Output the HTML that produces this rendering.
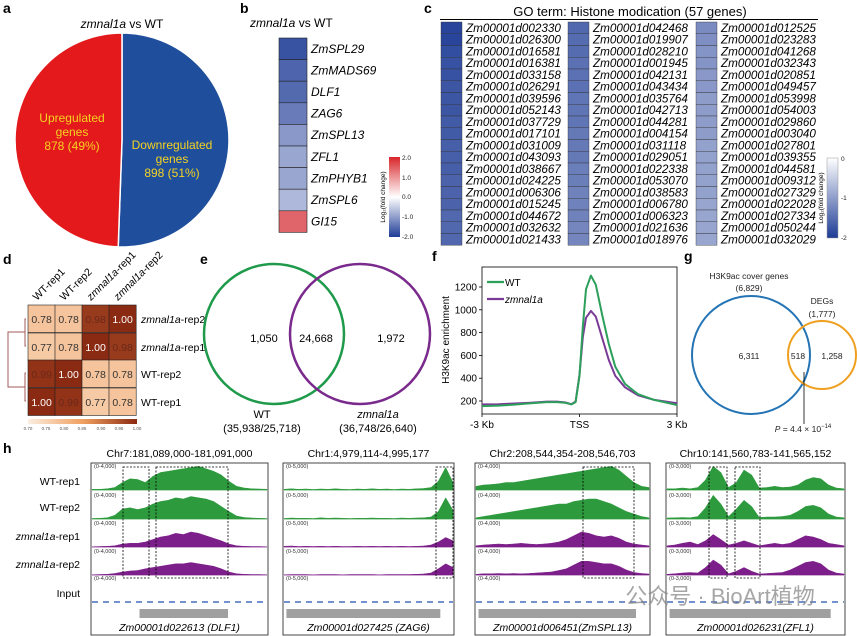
<!DOCTYPE html>
<html><head><meta charset="utf-8"><style>
body{margin:0;background:#fff}
svg{display:block;font-family:"Liberation Sans","Noto Sans CJK SC",sans-serif}
</style></head><body>
<svg id="fig" width="857" height="636" viewBox="0 0 857 636" xmlns="http://www.w3.org/2000/svg">
<defs>
<linearGradient id="gb" x1="0" y1="0" x2="0" y2="1"><stop offset="0" stop-color="#d8262a"/><stop offset="0.5" stop-color="#ffffff"/><stop offset="1" stop-color="#1e3c96"/></linearGradient>
<linearGradient id="gc" x1="0" y1="0" x2="0" y2="1"><stop offset="0" stop-color="#ffffff"/><stop offset="1" stop-color="#1e3c96"/></linearGradient>
<linearGradient id="gd" x1="0" y1="0" x2="1" y2="0"><stop offset="0" stop-color="#fbeee0"/><stop offset="0.5" stop-color="#f0a060"/><stop offset="1" stop-color="#8b2a12"/></linearGradient>
</defs>
<g font-weight="bold" font-size="14" fill="#000">
<text x="3" y="13">a</text><text x="240" y="13">b</text><text x="424" y="13">c</text>
<text x="3" y="264">d</text><text x="200" y="264">e</text><text x="432" y="261">f</text><text x="684" y="261">g</text><text x="3" y="453">h</text>
</g>
<text x="122" y="28" font-size="12" text-anchor="middle"><tspan font-style="italic">zmnal1a</tspan> vs WT</text>
<g id="pie"></g>
<text x="250" y="27" font-size="12"><tspan font-style="italic">zmnal1a</tspan> vs WT</text>
<g id="hb"></g>
<rect x="389" y="157" width="11" height="80" fill="url(#gb)"/>
<g font-size="6.5" fill="#222">
<text x="402" y="160">2.0</text><text x="402" y="180">1.0</text><text x="402" y="199">0.0</text><text x="402" y="219">-1.0</text><text x="402" y="239">-2.0</text></g>
<text transform="translate(385,197) rotate(-90)" font-size="6.5" text-anchor="middle">Log₂(fold change)</text>
<text x="630" y="16" font-size="13" text-anchor="middle">GO term: Histone modication (57 genes)</text>
<line x1="440" y1="19.5" x2="818" y2="19.5" stroke="#000" stroke-width="1"/>
<g id="hc"></g>
<rect x="827" y="158" width="11" height="80" fill="url(#gc)" stroke="#999" stroke-width="0.5"/>
<g font-size="6.5" fill="#222"><text x="841" y="161">0</text><text x="841" y="200">-1</text><text x="841" y="240">-2</text></g>
<text transform="translate(823,198) rotate(-90)" font-size="6.5" text-anchor="middle">Log₂(fold change)</text>
<g id="hd"></g>
<g stroke="#a05a5a" stroke-width="1" fill="none">
<path d="M26,319 H25 V346 H26 M25,332 H8 V387 H25 M26,373 H25 V401 H26"/></g>
<rect x="28" y="419" width="109" height="5" fill="url(#gd)"/>
<g font-size="4.5" fill="#555" text-anchor="middle">
<text x="28" y="430">0.70</text><text x="46" y="430">0.75</text><text x="64" y="430">0.80</text><text x="82" y="430">0.85</text><text x="101" y="430">0.90</text><text x="119" y="430">0.95</text><text x="137" y="430">1.00</text></g>
<circle cx="274" cy="334" r="70" fill="none" stroke="#1e9a4a" stroke-width="2.5"/>
<circle cx="360" cy="334" r="70" fill="none" stroke="#7a2a8c" stroke-width="2.5"/>
<g font-size="11" text-anchor="middle">
<text x="264" y="342">1,050</text><text x="316" y="342">24,668</text><text x="391" y="342">1,972</text></g>
<g font-size="11" text-anchor="middle">
<text x="262" y="418">WT</text><text x="262" y="432">(35,938/25,718)</text>
<text x="378" y="418" font-style="italic">zmnal1a</text><text x="378" y="432">(36,748/26,640)</text></g>
<g id="pf"></g>
<circle cx="751" cy="355" r="59" fill="none" stroke="#2474b5" stroke-width="2"/>
<circle cx="822" cy="355" r="34" fill="none" stroke="#f0a020" stroke-width="2"/>
<g font-size="8.5" text-anchor="middle" fill="#222">
<text x="749" y="279">H3K9ac cover genes</text><text x="749" y="291">(6,829)</text>
<text x="822" y="304">DEGs</text><text x="822" y="317">(1,777)</text>
<text x="749" y="359">6,311</text><text x="798" y="359">518</text><text x="832" y="359">1,258</text>
<text x="803" y="432"><tspan font-style="italic">P</tspan> = 4.4 × 10<tspan dy="-4" font-size="6">−14</tspan></text></g>
<line x1="804" y1="372" x2="804" y2="424" stroke="#000" stroke-width="0.8"/>
<g id="ph"></g>
<text x="720" y="604" font-size="22" fill="#888" fill-opacity="0.75" text-anchor="middle">公众号 · BioArt植物</text>
</svg>
<script>
const NS="http://www.w3.org/2000/svg";
function mk(tag,attrs,parent){const e=document.createElementNS(NS,tag);for(const k in attrs)e.setAttribute(k,attrs[k]);parent.appendChild(e);return e;}
function lerp(a,b,t){return Math.round(a+(b-a)*t);}
function divColor(v,max){const t=Math.min(1,Math.abs(v)/max);const w=[244,244,250];const c=v<0?[30,60,150]:[216,40,44];return `rgb(${lerp(w[0],c[0],t)},${lerp(w[1],c[1],t)},${lerp(w[2],c[2],t)})`;}

const pieLabels=["Downregulated genes","Upregulated genes"];
const pieValues=[898,878];
const pieColors=["#1f4e9c","#e3191c"];
(function(){
const g=document.getElementById('pie');const cx=122,cy=140,r=107;const tot=pieValues.reduce((a,b)=>a+b,0);let a0=0;
const labelPos=[[172,149],[72,122]];
pieValues.forEach((v,i)=>{const a1=a0+v/tot*2*Math.PI;
const x0=cx+r*Math.sin(a0),y0=cy-r*Math.cos(a0),x1=cx+r*Math.sin(a1),y1=cy-r*Math.cos(a1);
const p=mk('path',{d:`M${cx},${cy} L${x0},${y0} A${r},${r} 0 ${a1-a0>Math.PI?1:0} 1 ${x1},${y1} Z`,fill:pieColors[i],stroke:'#fff','stroke-width':1.5},g);


const [lx,ly]=labelPos[i];
const words=pieLabels[i].split(' ');const lines=[words[0],words[1],`${v} (${Math.round(v/tot*100)}%)`];
lines.forEach((s,j)=>{const t=mk('text',{x:lx,y:ly+j*14,'font-size':12,fill:'#f5d320','text-anchor':'middle'},g);t.textContent=s;

});
a0=a1;});
})();

const bGenes=["ZmSPL29","ZmMADS69","DLF1","ZAG6","ZmSPL13","ZFL1","ZmPHYB1","ZmSPL6","GI15"];
const bValues=[-1.75,-1.55,-1.5,-1.3,-1.0,-0.85,-0.85,-0.65,1.4];
(function(){const g=document.getElementById('hb');const y0=38,h=21.6;
bGenes.forEach((n,i)=>{const r=mk('rect',{x:279,y:y0+i*h,width:28,height:h,fill:divColor(bValues[i],2),stroke:'#222','stroke-width':0.6},g);


const t=mk('text',{x:311,y:y0+i*h+h/2+4,'font-size':12,'font-style':'italic'},g);t.textContent=n;

});})();

const cGenes=[
["Zm00001d002330","Zm00001d026300","Zm00001d016581","Zm00001d016381","Zm00001d033158","Zm00001d026291","Zm00001d039596","Zm00001d052143","Zm00001d037729","Zm00001d017101","Zm00001d031009","Zm00001d043093","Zm00001d038667","Zm00001d024225","Zm00001d006306","Zm00001d015245","Zm00001d044672","Zm00001d032632","Zm00001d021433"],
["Zm00001d042468","Zm00001d019907","Zm00001d028210","Zm00001d001945","Zm00001d042131","Zm00001d043434","Zm00001d035764","Zm00001d042713","Zm00001d044281","Zm00001d004154","Zm00001d031118","Zm00001d029051","Zm00001d022338","Zm00001d053070","Zm00001d038583","Zm00001d006780","Zm00001d006323","Zm00001d021636","Zm00001d018976"],
["Zm00001d012525","Zm00001d023283","Zm00001d041268","Zm00001d032343","Zm00001d020851","Zm00001d049457","Zm00001d053998","Zm00001d054003","Zm00001d029860","Zm00001d003040","Zm00001d027801","Zm00001d039355","Zm00001d044581","Zm00001d009312","Zm00001d027329","Zm00001d022028","Zm00001d027334","Zm00001d050244","Zm00001d032029"]];
const cValues=[
[-2.0,-2.0,-1.9,-1.85,-1.85,-1.8,-1.8,-1.8,-1.75,-1.75,-1.7,-1.7,-1.7,-1.65,-1.65,-1.65,-1.6,-1.6,-1.6],
[-1.6,-1.55,-1.55,-1.5,-1.5,-1.5,-1.45,-1.45,-1.45,-1.4,-1.4,-1.4,-1.35,-1.35,-1.3,-1.3,-1.3,-1.25,-1.25],
[-1.2,-1.15,-1.1,-1.1,-1.05,-1.05,-1.0,-1.0,-1.0,-1.0,-0.95,-0.95,-0.95,-0.95,-0.95,-0.9,-0.9,-0.9,-0.9]];
(function(){const g=document.getElementById('hc');const cx=[441,568,696],y0=22,h=11.75;
cGenes.forEach((col,c)=>col.forEach((n,i)=>{
const r=mk('rect',{x:cx[c],y:y0+i*h,width:21,height:h,fill:divColor(cValues[c][i],2.1),stroke:'#333','stroke-width':0.4},g);


const t=mk('text',{x:cx[c]+25,y:y0+i*h+h-1.8,'font-size':11.7,'font-style':'italic'},g);t.textContent=n;

}));})();

const dSamples=["WT-rep1","WT-rep2","zmnal1a-rep1","zmnal1a-rep2"];
const dRows=["zmnal1a-rep2","zmnal1a-rep1","WT-rep2","WT-rep1"];
const dMatrix=[[0.78,0.78,0.98,1.00],[0.77,0.78,1.00,0.98],[0.99,1.00,0.78,0.78],[1.00,0.99,0.77,0.78]];
(function(){const g=document.getElementById('hd');const xs=[28,55,82,109],ys=[305,333,360,388],w=27.2,h=27.5;
function col(v){const t=Math.max(0,Math.min(1,(v-0.7)/0.3));const a=[251,238,224],m=[240,160,96],b=[139,42,18];
if(t<0.5)return `rgb(${lerp(a[0],m[0],t*2)},${lerp(a[1],m[1],t*2)},${lerp(a[2],m[2],t*2)})`;
return `rgb(${lerp(m[0],b[0],(t-0.5)*2)},${lerp(m[1],b[1],(t-0.5)*2)},${lerp(m[2],b[2],(t-0.5)*2)})`;}
dMatrix.forEach((row,i)=>row.forEach((v,j)=>{
const r=mk('rect',{x:xs[j],y:ys[i],width:w,height:h,fill:col(v),stroke:'#222','stroke-width':0.6},g);


const t=mk('text',{x:xs[j]+w/2,y:ys[i]+h/2+4,'font-size':10.5,'text-anchor':'middle',fill:v>0.9?(v===1?'#fff':'#6a2a1a'):'#333'},g);t.textContent=v.toFixed(2);

}));
dRows.forEach((n,i)=>{const t=mk('text',{x:141,y:ys[i]+h/2+4,'font-size':10.5},g);
if(n.startsWith('zmnal1a')){const s=mk('tspan',{'font-style':'italic'},t);s.textContent='zmnal1a';const s2=mk('tspan',{},t);s2.textContent=n.slice(7);}else t.textContent=n;

});
dSamples.forEach((n,j)=>{const t=mk('text',{transform:`translate(${xs[j]+9},${301}) rotate(-45)`,'font-size':10.5},g);
if(n.startsWith('zmnal1a')){const s=mk('tspan',{'font-style':'italic'},t);s.textContent='zmnal1a';const s2=mk('tspan',{},t);s2.textContent=n.slice(7);}else t.textContent=n;

});})();

const fPos=[-3,-2.5,-2,-1.5,-1,-0.7,-0.45,-0.25,-0.12,0,0.1,0.2,0.35,0.5,0.7,0.9,1.1,1.4,1.8,2.3,3];
const fWT=[155,160,168,180,190,190,185,170,190,420,850,1180,1300,1220,950,700,500,350,260,210,165];
const fMut=[170,172,178,185,195,195,188,172,195,430,760,930,990,940,750,560,420,320,250,210,180];
const fYTicks=[200,400,600,800,1000,1200];
const fXTicks=["-3 Kb","TSS","3 Kb"];
(function(){const g=document.getElementById('pf');const X0=482,X1=677,Yb=414,Yt=267;
const xs=v=>X0+(v+3)/6*(X1-X0);const ys=v=>401-(v-200)*0.114;
const ax=mk('rect',{x:X0,y:Yt,width:X1-X0,height:Yb-Yt,fill:'none',stroke:'#000','stroke-width':0.8},g);


fYTicks.forEach(v=>{const l=mk('line',{x1:X0-3,x2:X0,y1:ys(v),y2:ys(v),stroke:'#000','stroke-width':0.8},g);


const t=mk('text',{x:X0-5,y:ys(v)+3.5,'font-size':10,'text-anchor':'end'},g);t.textContent=v;

});
[-3,0,3].forEach((v,i)=>{const l=mk('line',{x1:xs(v),x2:xs(v),y1:Yb,y2:Yb+3,stroke:'#000','stroke-width':0.8},g);


const t=mk('text',{x:xs(v),y:Yb+14,'font-size':10,'text-anchor':'middle'},g);t.textContent=fXTicks[i];

});
const yt=mk('text',{transform:'translate(449,340) rotate(-90)','font-size':10,'text-anchor':'middle'},g);yt.textContent='H3K9ac enrichment';


[[fMut,'#7b3a96','mutant'],[fWT,'#2ca05a','wt']].forEach(([arr,c,n])=>{
const pts=fPos.map((p,i)=>`${xs(p).toFixed(1)},${ys(arr[i]).toFixed(1)}`).join(' ');
const l=mk('polyline',{points:pts,fill:'none',stroke:c,'stroke-width':2,'stroke-linejoin':'round'},g);

});
[['WT','#2ca05a',282,false],['zmnal1a','#7b3a96',299,true]].forEach(([s,c,y,it])=>{
const l=mk('line',{x1:487,x2:504,y1:y,y2:y,stroke:c,'stroke-width':2.2},g);


const t=mk('text',{x:505,y:y+4,'font-size':10,'font-style':it?'italic':'normal'},g);t.textContent=s;

});})();

const hTitles=["Chr7:181,089,000-181,091,000","Chr1:4,979,114-4,995,177","Chr2:208,544,354-208,546,703","Chr10:141,560,783-141,565,152"];
const hGenes=["Zm00001d022613 (DLF1)","Zm00001d027425 (ZAG6)","Zm00001d006451(ZmSPL13)","Zm00001d026231(ZFL1)"];
const hRanges=["(0-4,000)","(0-5,000)","(0-4,000)","(0-3,000)"];
const hRowLabels=["WT-rep1","WT-rep2","zmnal1a-rep1","zmnal1a-rep2","Input"];
const hProfiles=[
[[0.03,0.03,0.05,0.1,0.3,0.45,0.42,0.3,0.55,0.7,0.75,0.8,0.85,0.9,0.95,0.85,0.75,0.6,0.35,0.15,0.08,0.05,0.04,0.03],
 [0.02,0.03,0.05,0.15,0.4,0.45,0.38,0.45,0.6,0.7,0.75,0.85,0.8,0.9,0.85,0.8,0.7,0.5,0.3,0.12,0.06,0.04,0.03,0.02],
 [0.01,0.02,0.03,0.05,0.12,0.15,0.15,0.2,0.3,0.4,0.45,0.55,0.5,0.6,0.55,0.45,0.35,0.25,0.12,0.05,0.03,0.02,0.02,0.01],
 [0.01,0.02,0.03,0.06,0.12,0.16,0.18,0.25,0.3,0.35,0.4,0.45,0.45,0.5,0.45,0.4,0.35,0.25,0.12,0.05,0.03,0.02,0.02,0.01]],
[[0.03,0.05,0.03,0.04,0.02,0.04,0.03,0.05,0.03,0.02,0.04,0.03,0.05,0.03,0.04,0.02,0.04,0.03,0.05,0.06,0.1,0.35,0.9,0.3],
 [0.02,0.04,0.03,0.03,0.02,0.05,0.03,0.04,0.03,0.02,0.03,0.03,0.04,0.03,0.03,0.02,0.04,0.03,0.04,0.05,0.08,0.3,0.85,0.35],
 [0.03,0.04,0.02,0.03,0.02,0.03,0.02,0.03,0.02,0.02,0.03,0.02,0.03,0.02,0.03,0.02,0.03,0.02,0.03,0.04,0.08,0.2,0.38,0.25],
 [0.01,0.02,0.02,0.02,0.01,0.02,0.02,0.02,0.01,0.02,0.02,0.02,0.02,0.01,0.02,0.02,0.02,0.02,0.03,0.04,0.08,0.25,0.45,0.3]],
[[0.15,0.2,0.22,0.25,0.3,0.3,0.35,0.4,0.45,0.5,0.55,0.6,0.65,0.7,0.75,0.8,0.85,0.9,0.95,0.8,0.55,0.3,0.15,0.1],
 [0.05,0.1,0.15,0.2,0.25,0.3,0.35,0.4,0.45,0.5,0.55,0.6,0.6,0.7,0.75,0.8,0.8,0.7,0.6,0.45,0.3,0.2,0.1,0.05],
 [0.05,0.08,0.1,0.12,0.1,0.12,0.15,0.12,0.1,0.12,0.15,0.2,0.3,0.45,0.6,0.55,0.45,0.4,0.45,0.35,0.2,0.12,0.08,0.05],
 [0.03,0.05,0.05,0.06,0.05,0.06,0.05,0.06,0.08,0.1,0.12,0.18,0.25,0.4,0.55,0.55,0.5,0.45,0.45,0.35,0.2,0.1,0.06,0.04]],
[[0.05,0.05,0.08,0.05,0.1,0.4,0.95,0.7,0.1,0.3,0.8,0.6,0.08,0.1,0.15,0.1,0.12,0.2,0.4,0.5,0.45,0.2,0.08,0.05],
 [0.04,0.05,0.06,0.05,0.1,0.45,0.95,0.6,0.1,0.4,0.75,0.5,0.06,0.08,0.08,0.1,0.15,0.3,0.5,0.55,0.45,0.2,0.08,0.05],
 [0.05,0.08,0.15,0.2,0.1,0.25,0.5,0.3,0.08,0.15,0.25,0.15,0.05,0.1,0.15,0.1,0.15,0.3,0.45,0.4,0.3,0.15,0.1,0.05],
 [0.03,0.05,0.08,0.1,0.08,0.3,0.6,0.4,0.05,0.15,0.3,0.15,0.04,0.06,0.08,0.1,0.2,0.35,0.5,0.55,0.45,0.2,0.08,0.04]]];
const hBoxes=[[[123,149],[156,228]],[[436,453]],[[583,634]],[[709,727],[735,760]]];
(function(){const g=document.getElementById('ph');const bx=[[91,268],[283,454],[475,650],[666,845]];
const base=[490,519,547,575,602];const H=25;
hRowLabels.forEach((n,i)=>{const t=mk('text',{x:80,y:[485,511,540,568,597][i],'font-size':10.5,'text-anchor':'end'},g);
if(n.startsWith('zmnal1a')){const s=mk('tspan',{'font-style':'italic'},t);s.textContent='zmnal1a';const s2=mk('tspan',{},t);s2.textContent=n.slice(7);}else t.textContent=n;

});
bx.forEach(([x0,x1],p)=>{
const tt=mk('text',{x:(x0+x1)/2,y:457,'font-size':10.5,'text-anchor':'middle'},g);tt.textContent=hTitles[p];


const fr=mk('rect',{x:x0,y:463,width:x1-x0,height:172,fill:'none',stroke:'#333','stroke-width':0.9},g);


for(let r=0;r<5;r++){const rl=mk('text',{x:x0+3,y:base[r]-22,'font-size':5.5,fill:'#333'},g);rl.textContent=hRanges[p];

}
hProfiles[p].forEach((prof,r)=>{const c=r<2?'#2e9a3e':'#7d1f8a';const n=prof.length;const w=(x1-x0-2)/(n-1);
let d=`M${x0+1},${base[r]}`;prof.forEach((v,k)=>{d+=` L${(x0+1+k*w).toFixed(1)},${(base[r]-v*H).toFixed(1)}`;});d+=` L${x1-1},${base[r]} Z`;
const a=mk('path',{d:d,fill:c,stroke:c,'stroke-width':0.5},g);


const bl=mk('line',{x1:x0+1,x2:x1-1,y1:base[r],y2:base[r],stroke:c,'stroke-width':0.8,'stroke-opacity':0.6},g);

});
const inp=mk('line',{x1:x0+1,x2:x1-1,y1:602,y2:602,stroke:'#2050b0','stroke-width':1.2,'stroke-dasharray':'6 5'},g);


hBoxes[p].forEach(([a,b])=>{const db=mk('rect',{x:a,y:467,width:b-a,height:111,fill:'none',stroke:'#000','stroke-width':0.8,'stroke-dasharray':'2 1.5'},g);

});
const gm=mk('rect',{x:x0+(x1-x0)*0.02+ (p===0?45:0),y:609,width:(x1-x0)*(p===0?0.5:0.9),height:9,fill:'#a0a0a0'},g);


const gn=mk('text',{x:(x0+x1)/2,y:631,'font-size':10.5,'font-style':'italic','text-anchor':'middle'},g);gn.textContent=hGenes[p];

});})();
</script>
</body></html>
